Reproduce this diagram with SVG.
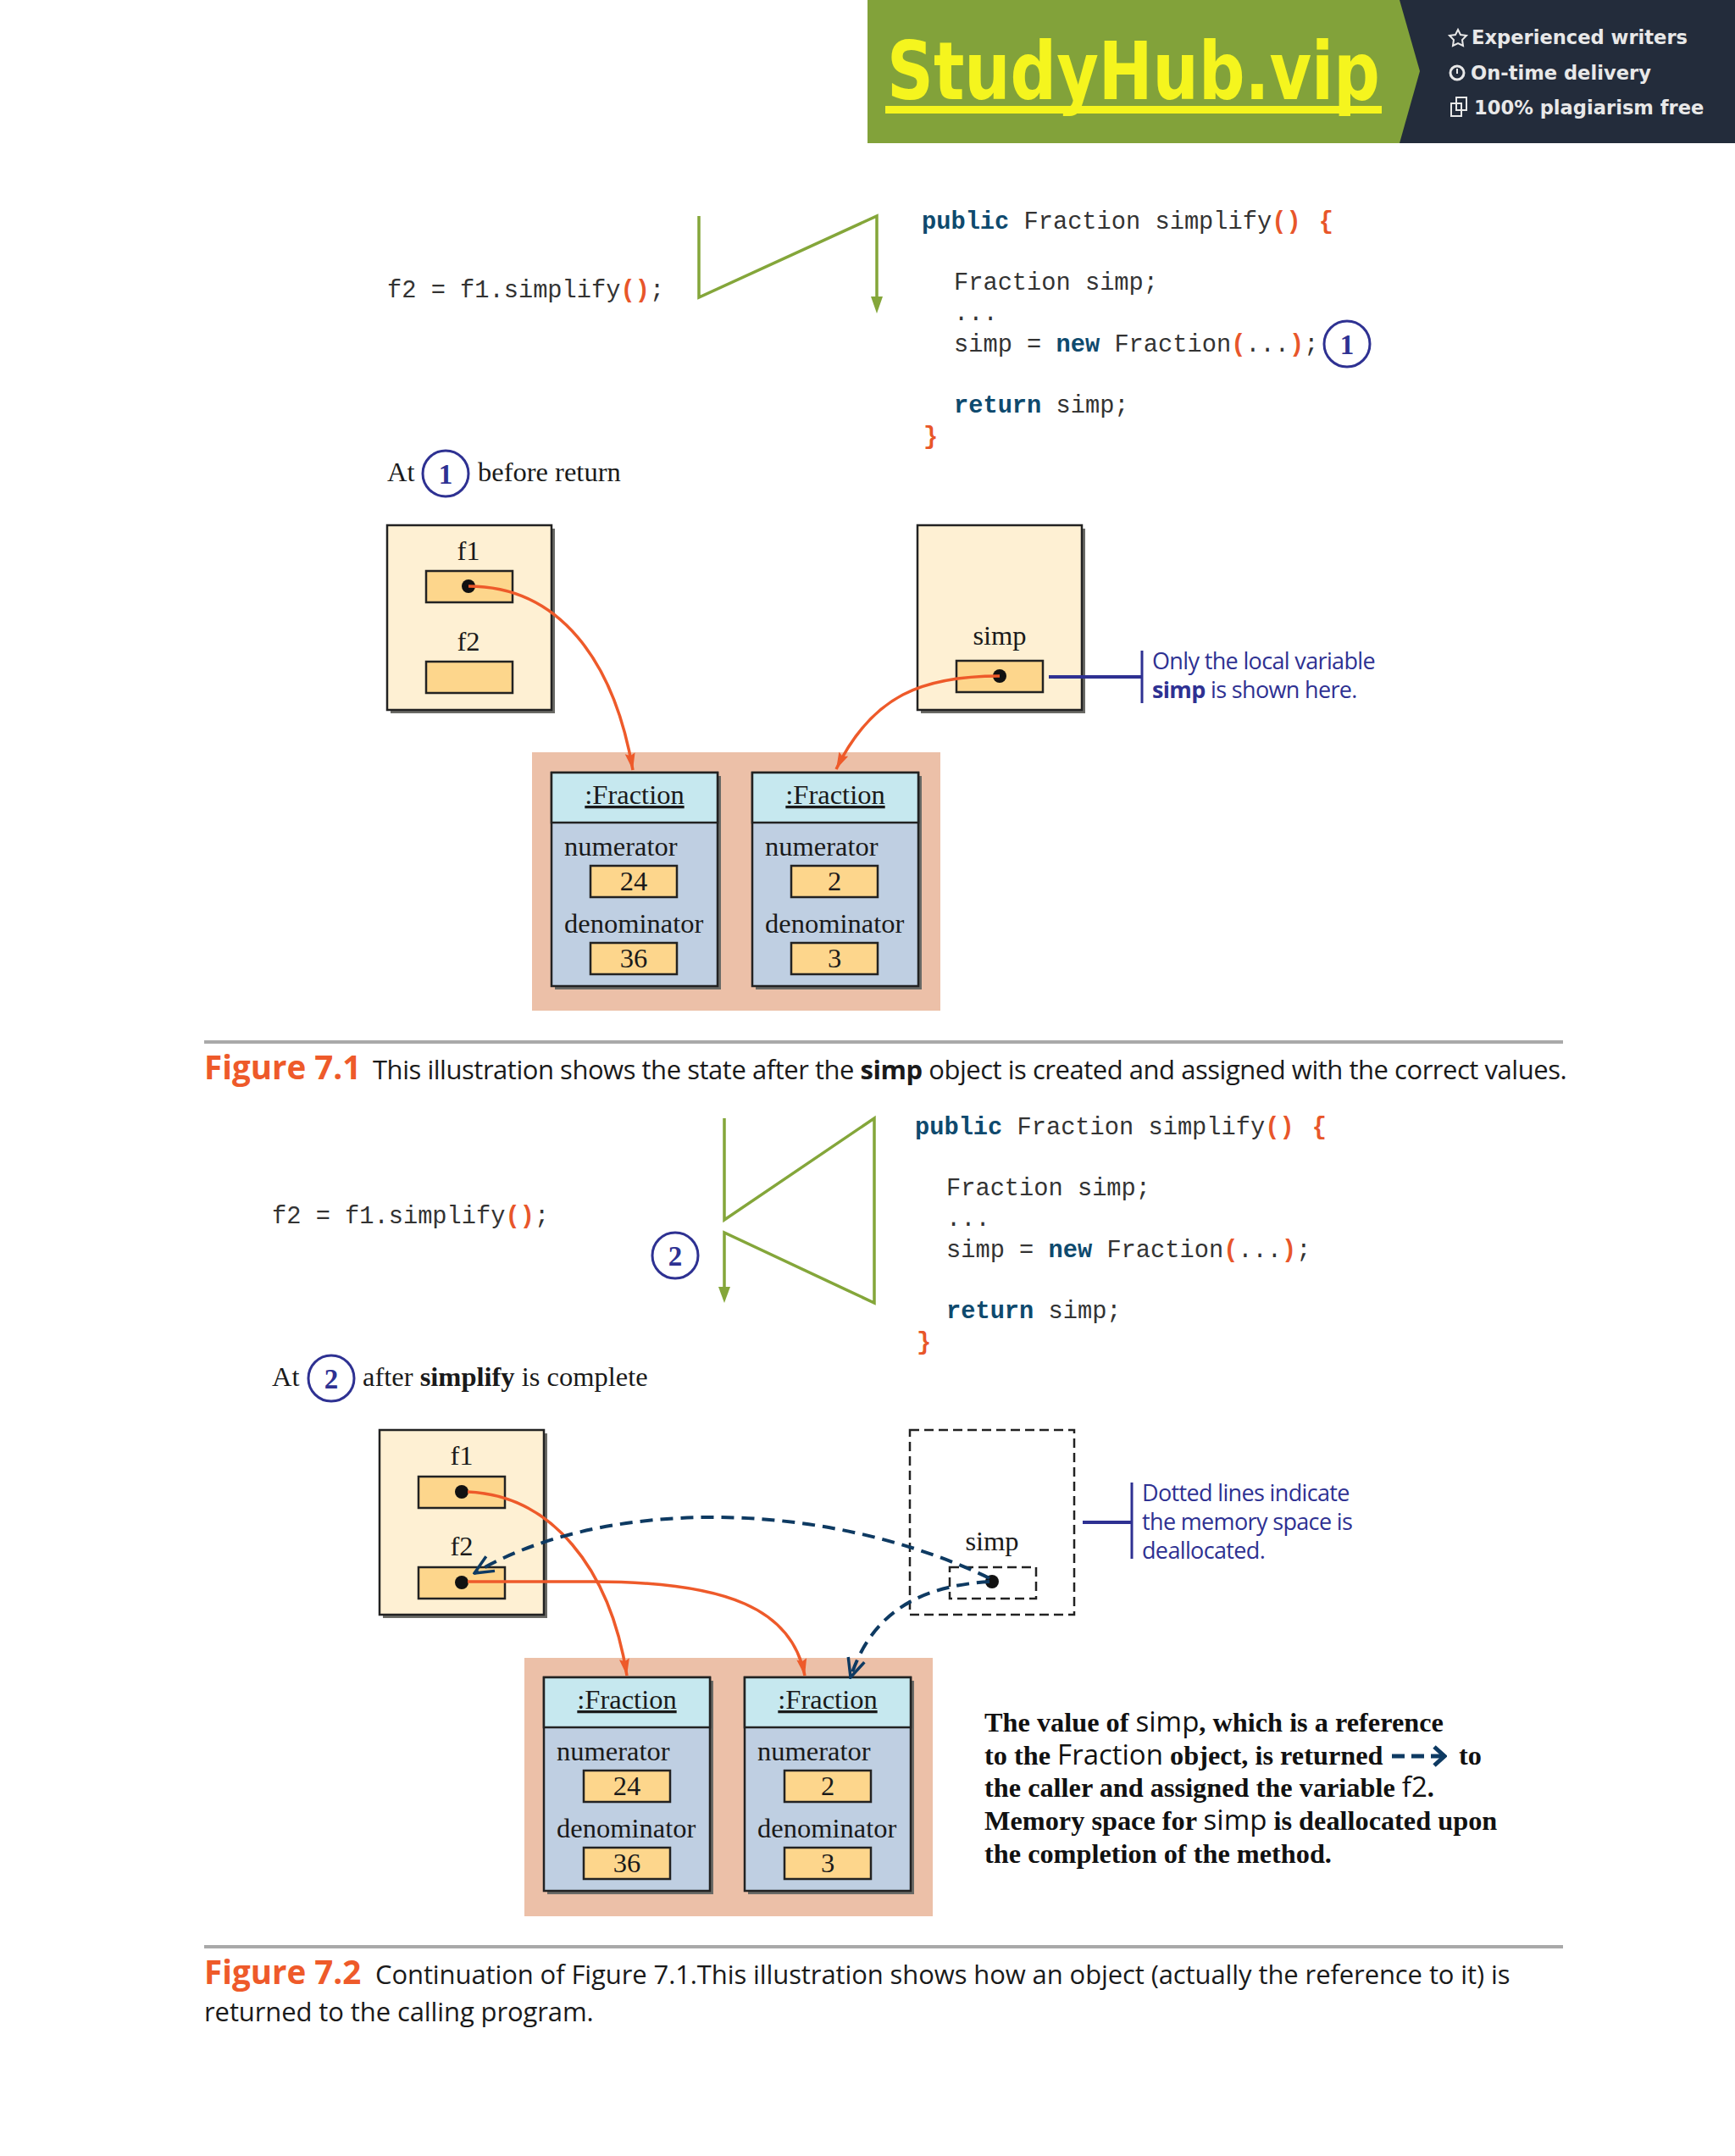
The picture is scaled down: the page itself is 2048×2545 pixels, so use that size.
<svg xmlns="http://www.w3.org/2000/svg" width="2048" height="2545" viewBox="0 0 2048 2545">
<defs>
<marker id="ao" markerUnits="userSpaceOnUse" markerWidth="22" markerHeight="14" refX="20" refY="7" orient="auto"><path d="M0 1L20 7L0 13L3 7Z" fill="#ee5a2a"/></marker>
<marker id="ab" markerUnits="userSpaceOnUse" markerWidth="26" markerHeight="24" refX="24" refY="12" orient="auto"><path d="M2 2L24 12L2 22" fill="none" stroke="#0e3a62" stroke-width="3.5"/></marker>
<marker id="as" markerUnits="userSpaceOnUse" markerWidth="18" markerHeight="26" refX="16" refY="13" orient="auto"><path d="M3 2L15 13L3 24" fill="none" stroke="#0e3a62" stroke-width="5"/></marker>
</defs>
<style>
.s{font-family:"Liberation Serif",serif;font-size:32.5px;fill:#1a1a1a}
.m{font-family:"Liberation Mono",monospace;font-size:28.7px;fill:#333}
.k{font-weight:bold;fill:#0e4a6e}
.o{fill:#e8562a;font-weight:bold}
.b{fill:#fef0d3;stroke:#222;stroke-width:2.5}
.sh{fill:#6a6a66}
.v{fill:#fdd68c;stroke:#222;stroke-width:2.5}
.h{fill:#c6e8ef;stroke:#222;stroke-width:2.5}
.bd{fill:#bfcfe2;stroke:#222;stroke-width:2.5}
.c{fill:none;stroke:#ee5a2a;stroke-width:3.5}
.d{fill:none;stroke:#0e3a62;stroke-width:4;stroke-dasharray:15 9}
.g{fill:none;stroke:#84a63a;stroke-width:3.5}
.n{fill:none;stroke:#2e3192;stroke-width:3}
.nl{fill:none;stroke:#2e3192;stroke-width:4}
.nt{font-family:"Open Sans","Noto Sans",sans-serif;font-size:27px;fill:#2e3192;letter-spacing:-.65px}
.cap{font-family:"Open Sans","Noto Sans",sans-serif;font-size:31px;fill:#1a1a1a;letter-spacing:-.1px}
.cap1{letter-spacing:-.47px}
.fig{font-family:"Open Sans","Noto Sans",sans-serif;font-size:38.5px;font-weight:bold;fill:#ee5a2a}
.cn{font-family:"Liberation Serif",serif;font-size:33px;font-weight:bold;fill:#2e3192;text-anchor:middle}
.mid{text-anchor:middle}
.bt{font-family:"Liberation Serif",serif;font-size:32.3px;font-weight:bold;fill:#111}
.bs{font-family:"Open Sans",sans-serif;font-weight:normal;font-size:33px}
.bn{font-family:"DejaVu Sans",sans-serif;font-size:22.6px;font-weight:bold;fill:#e8e8e8}
</style>
<rect width="2048" height="2545" fill="#fff"/>
<g id="banner">
<rect x="1024" y="0" width="1024" height="169" fill="#232c3b"/>
<path d="M1024 0H1652L1676 84L1652 169H1024Z" fill="#82a23a"/>
<text transform="translate(1047 117) scale(.811 1)" font-family="DejaVu Sans,sans-serif" font-size="94" font-weight="bold" fill="#f5f51e">StudyHub.vip</text>
<rect x="1045" y="125" width="586" height="9" fill="#f5f51e"/>
<text x="1737" y="52" class="bn">Experienced writers</text>
<text x="1736" y="94" class="bn">On-time delivery</text>
<text x="1740" y="135" class="bn">100% plagiarism free</text>
<path d="M1721 35l3 6 7 1-5 5 1 7-6-3-6 3 1-7-5-5 7-1z" fill="none" stroke="#e8e8e8" stroke-width="2"/>
<circle cx="1720" cy="86" r="8" fill="none" stroke="#e8e8e8" stroke-width="3"/>
<path d="M1720 81V87" stroke="#e8e8e8" stroke-width="2"/>
<rect x="1713" y="122" width="12" height="15" fill="none" stroke="#e8e8e8" stroke-width="2"/>
<rect x="1719" y="115" width="12" height="15" fill="none" stroke="#e8e8e8" stroke-width="2"/>
</g>
<g id="code1">
<text x="457" y="351" class="m">f2 = f1.simplify<tspan class="o">()</tspan>;</text>
<text x="1088" y="270" class="m"><tspan class="k">public</tspan> Fraction simplify<tspan class="o">()</tspan> <tspan class="o" dx="4">{</tspan></text>
<text x="1126" y="342" class="m">Fraction simp;</text>
<text x="1126" y="378" class="m">...</text>
<text x="1126" y="415" class="m">simp = <tspan class="k">new</tspan> Fraction<tspan class="o">(</tspan>...<tspan class="o">)</tspan>;</text>
<text x="1126" y="487" class="m"><tspan class="k">return</tspan> simp;</text>
<text x="1090" y="524" class="m o">}</text>
</g>
<g id="callout1a"><circle cx="1590" cy="406" r="27" class="n"/><text x="1590" y="418" class="cn">1</text></g>
<g id="atline1">
<text x="457" y="568" class="s">At</text>
<circle cx="526" cy="559" r="27" class="n"/><text x="526" y="571" class="cn">1</text>
<text x="564" y="568" class="s">before return</text>
</g>
<g id="frameMain1">
<rect x="461" y="624" width="194" height="218" class="sh"/><rect x="457" y="620" width="194" height="218" class="b"/>
<text x="553" y="661" class="s mid">f1</text><rect x="503" y="674" width="102" height="37" class="v"/>
<text x="553" y="768" class="s mid">f2</text><rect x="503" y="781" width="102" height="37" class="v"/>
<circle cx="553" cy="692" r="8" fill="#111"/>
</g>
<g id="frameSimp1">
<rect x="1087" y="624" width="194" height="218" class="sh"/><rect x="1083" y="620" width="194" height="218" class="b"/>
<text x="1180" y="761" class="s mid">simp</text><rect x="1129" y="780" width="102" height="37" class="v"/>
<circle cx="1180" cy="798" r="8" fill="#111"/>
</g>
<g id="heap1"><rect x="628" y="888" width="482" height="305" fill="#ecc0a8"/></g>
<g id="obj1a">
<rect x="655" y="916" width="196" height="252" class="sh"/><rect x="651" y="912" width="196" height="252" class="bd"/>
<rect x="651" y="912" width="196" height="59" class="h"/>
<text x="749" y="949" class="s mid" text-decoration="underline">:Fraction</text>
<text x="666" y="1010" class="s">numerator</text><rect x="697" y="1022" width="102" height="37" class="v"/><text x="748" y="1051" class="s mid">24</text>
<text x="666" y="1101" class="s">denominator</text><rect x="697" y="1113" width="102" height="37" class="v"/><text x="748" y="1142" class="s mid">36</text>
</g>
<g id="obj1b">
<rect x="892" y="916" width="196" height="252" class="sh"/><rect x="888" y="912" width="196" height="252" class="bd"/>
<rect x="888" y="912" width="196" height="59" class="h"/>
<text x="986" y="949" class="s mid" text-decoration="underline">:Fraction</text>
<text x="903" y="1010" class="s">numerator</text><rect x="934" y="1022" width="102" height="37" class="v"/><text x="985" y="1051" class="s mid">2</text>
<text x="903" y="1101" class="s">denominator</text><rect x="934" y="1113" width="102" height="37" class="v"/><text x="985" y="1142" class="s mid">3</text>
</g>
<g id="note1">
<text x="1360" y="790" class="nt">Only the local variable</text>
<text x="1360" y="824" class="nt"><tspan font-weight="bold">simp</tspan> is shown here.</text>
</g>
<g id="connectors1">
<path d="M825 255V351L1035 255V352" class="g"/><path d="M1028 350H1042L1035 370Z" fill="#84a63a"/>
<path d="M553 692C660 692 725 780 747 909" class="c" marker-end="url(#ao)"/>
<path d="M1180 798C1090 798 1030 820 987 908" class="c" marker-end="url(#ao)"/>
<path d="M1238 799H1348" class="nl"/><path d="M1348 768V830" class="n"/>
</g>
<g id="caption1">
<rect x="241" y="1228" width="1604" height="4" fill="#a9a9a9"/>
<text x="241" y="1274" class="fig">Figure 7.1</text>
<text x="440" y="1274" class="cap cap1">This illustration shows the state after the <tspan font-weight="bold">simp</tspan> object is created and assigned with the correct values.</text>
</g>
<g id="code2">
<text x="321" y="1444" class="m">f2 = f1.simplify<tspan class="o">()</tspan>;</text>
<text x="1080" y="1339" class="m"><tspan class="k">public</tspan> Fraction simplify<tspan class="o">()</tspan> <tspan class="o" dx="4">{</tspan></text>
<text x="1117" y="1411" class="m">Fraction simp;</text>
<text x="1117" y="1447" class="m">...</text>
<text x="1117" y="1484" class="m">simp = <tspan class="k">new</tspan> Fraction<tspan class="o">(</tspan>...<tspan class="o">)</tspan>;</text>
<text x="1117" y="1556" class="m"><tspan class="k">return</tspan> simp;</text>
<text x="1082" y="1593" class="m o">}</text>
</g>
<g id="callout2a"><circle cx="797" cy="1482" r="27" class="n"/><text x="797" y="1494" class="cn">2</text></g>
<g id="atline2">
<text x="321" y="1636" class="s">At</text>
<circle cx="391" cy="1627" r="27" class="n"/><text x="391" y="1639" class="cn">2</text>
<text x="428" y="1636" class="s">after <tspan font-weight="bold">simplify</tspan> is complete</text>
</g>
<g id="frameMain2">
<rect x="452" y="1692" width="194" height="218" class="sh"/><rect x="448" y="1688" width="194" height="218" class="b"/>
<text x="545" y="1729" class="s mid">f1</text><rect x="494" y="1743" width="102" height="37" class="v"/>
<text x="545" y="1836" class="s mid">f2</text><rect x="494" y="1850" width="102" height="37" class="v"/>
<circle cx="545" cy="1761" r="8" fill="#111"/><circle cx="545" cy="1868" r="8" fill="#111"/>
</g>
<g id="frameSimp2">
<rect x="1074" y="1688" width="194" height="218" fill="none" stroke="#222" stroke-width="2.5" stroke-dasharray="11 6"/>
<text x="1171" y="1830" class="s mid">simp</text>
<rect x="1121" y="1850" width="102" height="37" fill="none" stroke="#222" stroke-width="2.5" stroke-dasharray="11 6"/>
<circle cx="1171" cy="1867" r="8" fill="#111"/>
</g>
<g id="heap2"><rect x="619" y="1957" width="482" height="305" fill="#ecc0a8"/></g>
<g id="obj2a">
<rect x="646" y="1984" width="196" height="252" class="sh"/><rect x="642" y="1980" width="196" height="252" class="bd"/>
<rect x="642" y="1980" width="196" height="59" class="h"/>
<text x="740" y="2017" class="s mid" text-decoration="underline">:Fraction</text>
<text x="657" y="2078" class="s">numerator</text><rect x="689" y="2090" width="102" height="37" class="v"/><text x="740" y="2119" class="s mid">24</text>
<text x="657" y="2169" class="s">denominator</text><rect x="689" y="2181" width="102" height="37" class="v"/><text x="740" y="2210" class="s mid">36</text>
</g>
<g id="obj2b">
<rect x="883" y="1984" width="196" height="252" class="sh"/><rect x="879" y="1980" width="196" height="252" class="bd"/>
<rect x="879" y="1980" width="196" height="59" class="h"/>
<text x="977" y="2017" class="s mid" text-decoration="underline">:Fraction</text>
<text x="894" y="2078" class="s">numerator</text><rect x="926" y="2090" width="102" height="37" class="v"/><text x="977" y="2119" class="s mid">2</text>
<text x="894" y="2169" class="s">denominator</text><rect x="926" y="2181" width="102" height="37" class="v"/><text x="977" y="2210" class="s mid">3</text>
</g>
<g id="note2">
<text x="1348" y="1772" class="nt">Dotted lines indicate</text>
<text x="1348" y="1806" class="nt">the memory space is</text>
<text x="1348" y="1840" class="nt">deallocated.</text>
</g>
<g id="connectors2">
<path d="M855 1320V1440L1032 1320V1538L855 1455V1522" class="g"/><path d="M848 1519H862L855 1538Z" fill="#84a63a"/>
<path d="M552 1761C650 1765 720 1850 740 1978" class="c" marker-end="url(#ao)"/>
<path d="M552 1867H700C860 1867 935 1900 950 1978" class="c" marker-end="url(#ao)"/>
<path d="M1168 1863C970 1768 710 1768 560 1857" class="d" marker-end="url(#ab)"/>
<path d="M1168 1867C1090 1872 1030 1900 1004 1980" class="d" marker-end="url(#ab)"/>
<path d="M1278 1797H1336" class="nl"/><path d="M1336 1750V1840" class="n"/>
</g>
<g id="explanation">
<text x="1162" y="2044" class="bt">The value of <tspan class="bs">simp</tspan>, which is a reference</text>
<text x="1162" y="2083" class="bt">to the <tspan class="bs">Fraction</tspan> object, is returned</text>
<path d="M1643 2073H1706" fill="none" stroke="#0e3a62" stroke-width="5" stroke-dasharray="15 8" marker-end="url(#as)"/>
<text x="1722" y="2083" class="bt">to</text>
<text x="1162" y="2121" class="bt">the caller and assigned the variable <tspan class="bs">f2</tspan>.</text>
<text x="1162" y="2160" class="bt">Memory space for <tspan class="bs">simp</tspan> is deallocated upon</text>
<text x="1162" y="2199" class="bt">the completion of the method.</text>
</g>
<g id="caption2">
<rect x="241" y="2296" width="1604" height="4" fill="#a9a9a9"/>
<text x="241" y="2342" class="fig">Figure 7.2</text>
<text x="443" y="2342" class="cap">Continuation of Figure 7.1.This illustration shows how an object (actually the reference to it) is</text>
<text x="241" y="2386" class="cap">returned to the calling program.</text>
</g>
</svg>
